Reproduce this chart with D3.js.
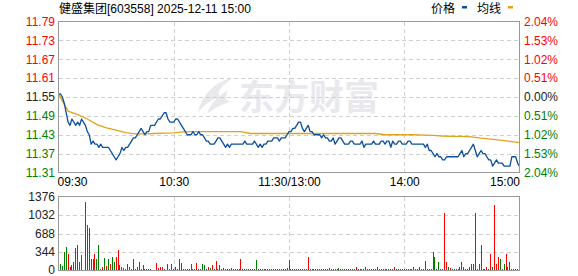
<!DOCTYPE html>
<html>
<head>
<meta charset="utf-8">
<script src="https://cdn.jsdelivr.net/npm/d3@7"></script>
<style>
  body { margin: 0; background: #fff; }
  svg text { font-family: "Liberation Sans", Arial, "Noto Sans CJK SC", sans-serif; }
</style>
</head>
<body>
<div class="chart"></div>
<script>
// chart data
const title = "健盛集团[603558] 2025-12-11 15:00";
const prevClose = 11.55;
const priceTicks = [11.79, 11.73, 11.67, 11.61, 11.55, 11.49, 11.43, 11.37, 11.31];
const pctLabels = ["2.04%", "1.53%", "1.02%", "0.51%", "0.00%", "0.51%", "1.02%", "1.53%", "2.04%"];
const volTicks = [1376, 1032, 688, 344, 0];
const timeLabels = ["09:30", "10:30", "11:30/13:00", "14:00", "15:00"];
const timeMinutes = [0, 60, 120, 180, 240];

// one price per minute, 09:30 .. 15:00 (241 points)
const price = [
  11.56,11.56,11.55,11.53,11.50,11.47,11.46,11.48,11.47,11.46,
  11.47,11.46,11.48,11.47,11.46,11.44,11.43,11.40,11.41,11.40,
  11.40,11.39,11.40,11.39,11.39,11.39,11.39,11.38,11.37,11.36,
  11.35,11.36,11.37,11.39,11.38,11.39,11.39,11.40,11.41,11.42,
  11.42,11.43,11.44,11.45,11.44,11.43,11.44,11.44,11.46,11.46,
  11.46,11.47,11.48,11.48,11.49,11.50,11.50,11.48,11.47,11.47,
  11.47,11.48,11.48,11.47,11.46,11.45,11.44,11.43,11.43,11.43,
  11.44,11.43,11.43,11.44,11.43,11.43,11.42,11.41,11.41,11.40,
  11.40,11.40,11.41,11.42,11.42,11.41,11.40,11.39,11.40,11.39,
  11.40,11.40,11.40,11.40,11.40,11.40,11.40,11.41,11.40,11.40,
  11.40,11.40,11.41,11.40,11.39,11.40,11.39,11.40,11.40,11.41,
  11.41,11.41,11.42,11.42,11.42,11.41,11.42,11.42,11.42,11.43,
  11.44,11.44,11.45,11.45,11.46,11.47,11.47,11.45,11.44,11.45,
  11.46,11.44,11.44,11.43,11.43,11.43,11.43,11.42,11.43,11.42,
  11.42,11.41,11.41,11.42,11.40,11.41,11.42,11.42,11.41,11.40,
  11.40,11.40,11.41,11.41,11.40,11.40,11.40,11.40,11.41,11.39,
  11.40,11.40,11.40,11.40,11.41,11.40,11.40,11.40,11.41,11.41,
  11.40,11.41,11.41,11.39,11.41,11.40,11.40,11.41,11.41,11.40,
  11.40,11.40,11.41,11.41,11.40,11.40,11.40,11.40,11.40,11.40,
  11.40,11.39,11.40,11.38,11.38,11.37,11.36,11.37,11.36,11.36,
  11.35,11.35,11.36,11.36,11.36,11.36,11.36,11.36,11.36,11.37,
  11.38,11.36,11.37,11.37,11.38,11.39,11.40,11.38,11.36,11.37,
  11.38,11.37,11.37,11.36,11.35,11.35,11.33,11.34,11.35,11.34,
  11.34,11.34,11.33,11.33,11.33,11.33,11.36,11.36,11.36,11.34,
  11.33
];

// average line read every 5 minutes
const avgMinutes = [0,5,10,15,20,25,30,35,40,45,50,55,60,65,70,75,80,85,90,95,100,105,110,115,120,
  125,130,135,140,145,150,155,160,165,170,175,180,185,190,195,200,205,210,215,220,225,230,235,240];
const avgPrice = [
  11.560,11.505,11.494,11.480,11.462,11.452,11.445,11.437,11.433,11.433,
  11.434,11.435,11.436,11.439,11.440,11.440,11.440,11.440,11.440,11.440,
  11.434,11.434,11.434,11.434,11.434,11.434,11.434,11.434,11.434,11.434,
  11.434,11.434,11.434,11.434,11.430,11.430,11.430,11.430,11.429,11.428,
  11.426,11.425,11.425,11.423,11.419,11.416,11.413,11.409,11.405
];

// volume per minute (lots), with u = up (red), d = down (green)
const volume = [
  372,112,87,353,428,316,74,93,155,415,
  465,167,279,12,1265,843,787,223,223,298,
  223,465,19,74,236,87,205,112,260,167,
  260,372,93,74,50,25,112,62,19,205,
  25,74,155,25,93,37,19,19,19,12,
  12,136,50,74,56,19,12,112,19,112,
  19,74,19,223,143,19,19,19,19,124,
  19,19,143,19,19,112,93,19,74,50,
  93,19,180,19,93,19,50,19,19,19,
  50,19,19,19,19,217,19,19,19,19,
  19,19,19,186,19,19,19,19,19,19,
  25,19,37,19,19,19,19,19,19,50,
  192,19,19,19,19,19,19,19,19,19,
  242,19,19,19,19,19,19,19,19,19,
  37,50,19,37,19,19,50,19,37,19,
  19,19,19,19,19,74,19,19,19,19,
  74,19,19,19,19,19,56,19,19,19,
  19,19,19,19,19,56,19,19,19,19,
  19,19,19,37,19,56,19,19,56,19,
  19,174,19,19,19,353,260,19,167,19,
  19,1060,167,74,50,19,19,19,19,74,
  167,56,37,37,56,130,130,1060,19,112,
  465,37,37,74,37,316,74,1209,130,260,
  205,19,112,298,74,149,19,19,19,19,
  781
];
const volDir = (
  "udddduuuud" + "udududduuu" + "dduudududd" + "uuudduuudu" + "uuudduuuuu" +
  "uuuuududuu" + "ududduuuuu" + "uuuuudduud" + "uuuududuuu" + "duuuuuuuuu" +
  "uuuduuuuuu" + "uuuuuuuuuu" + "uuuuuuuuuu" + "uuuuuuuuuu" + "dduduuduuu" +
  "uuuuuuuuuu" + "uuuuuuuuuu" + "uuuuuuuuuu" + "uuuduuuuuu" + "udududdudu" +
  "uuuduuuuuu" + "udduuuuduu" + "uddududuuu" + "ddduuuuuuu" + "d"
).split("");

// layout
const W = 578, H = 276;
const left = 58.5, right = 519.5;
const pTop = 21.5, pBottom = 172.5;
const vTop = 196.5, vBottom = 270.5;
const red = "#ff0000", green = "#008000", dark = "#222";
const gridColor = "#d0d0d0", borderColor = "#999";
const lineBlue = "#0d4f9e", lineGold = "#e0a31a";

const svg = d3.select(".chart")
  .append("svg")
  .attr("width", W)
  .attr("height", H);

const xScale = d3.scaleLinear().domain([0, 240]).range([left, right]);
const yScale = d3.scaleLinear().domain([11.31, 11.79]).range([pBottom, pTop]);
const vScale = d3.scaleLinear().domain([0, 1376]).range([vBottom, vTop]);

const colorOf = v => v > prevClose ? red : (v < prevClose ? green : dark);

// watermark
const wm = svg.append("g").attr("fill", "#e9e9ed");
wm.append("path")
  .attr("d", "M232,78 C214,82 201,96 198,113 C204,104 212,99 222,97 C214,94 222,86 232,78 Z M228,90 C218,96 210,104 207,114 C214,108 222,104 230,102 C224,100 226,95 228,90 Z");
wm.append("text")
  .attr("x", 239)
  .attr("y", 110)
  .attr("font-size", "35px")
  .attr("font-weight", "bold")
  .style("font-family", "'Noto Sans CJK SC', sans-serif")
  .text("东方财富");

// gridlines
const grid = svg.append("g")
  .attr("stroke", gridColor)
  .attr("stroke-dasharray", "4,3")
  .attr("shape-rendering", "crispEdges");
grid.selectAll(".hp")
  .data(priceTicks.slice(1, -1))
  .join("line")
  .attr("x1", left).attr("x2", right)
  .attr("y1", d => Math.round(yScale(d)) + 0.5)
  .attr("y2", d => Math.round(yScale(d)) + 0.5);
grid.selectAll(".hv")
  .data(volTicks.slice(1, -1))
  .join("line")
  .attr("class", "hv")
  .attr("x1", left).attr("x2", right)
  .attr("y1", d => Math.round(vScale(d)) + 0.5)
  .attr("y2", d => Math.round(vScale(d)) + 0.5);
[[pTop, pBottom], [vTop, vBottom]].forEach(([t, b]) => {
  grid.append("g")
    .selectAll("line")
    .data(timeMinutes.slice(1, -1))
    .join("line")
    .attr("x1", d => Math.round(xScale(d)) + 0.5)
    .attr("x2", d => Math.round(xScale(d)) + 0.5)
    .attr("y1", t).attr("y2", b);
});

// volume bars
svg.append("g")
  .attr("shape-rendering", "crispEdges")
  .selectAll("rect")
  .data(volume)
  .join("rect")
  .attr("x", (d, i) => Math.floor(xScale(i)))
  .attr("width", 1)
  .attr("y", d => vScale(d))
  .attr("height", d => vScale(0) - vScale(d))
  .attr("fill", (d, i) => volDir[i] === "u" ? red : green);

// average line
const avgLine = d3.line()
  .x((d, i) => xScale(avgMinutes[i]))
  .y(d => yScale(d));
svg.append("path")
  .datum(avgPrice)
  .attr("fill", "none")
  .attr("stroke", lineGold)
  .attr("stroke-width", 1.3)
  .attr("d", avgLine);

// price line
const priceLine = d3.line()
  .x((d, i) => xScale(i))
  .y(d => yScale(d));
svg.append("path")
  .datum(price)
  .attr("fill", "none")
  .attr("stroke", lineBlue)
  .attr("stroke-width", 1.3)
  .attr("stroke-linejoin", "round")
  .attr("d", priceLine);

// panel borders
svg.append("g")
  .attr("fill", "none")
  .attr("stroke", borderColor)
  .attr("shape-rendering", "crispEdges")
  .selectAll("rect")
  .data([[pTop, pBottom], [vTop, vBottom]])
  .join("rect")
  .attr("x", left).attr("width", right - left)
  .attr("y", d => d[0]).attr("height", d => d[1] - d[0]);

// axes
const leftAxis = svg.append("g")
  .attr("transform", `translate(${left - 0.5},0)`)
  .call(d3.axisLeft(yScale).tickValues(priceTicks).tickSize(0).tickPadding(3).tickFormat(d3.format(".2f")))
  .call(g => g.select(".domain").remove());
leftAxis.selectAll("text")
  .attr("font-size", "12px")
  .attr("fill", d => colorOf(d));

const rightAxis = svg.append("g")
  .attr("transform", `translate(${right + 0.5},0)`)
  .call(d3.axisRight(yScale).tickValues(priceTicks).tickSize(0).tickPadding(4).tickFormat((d, i) => pctLabels[i]))
  .call(g => g.select(".domain").remove());
rightAxis.selectAll("text")
  .attr("font-size", "12px")
  .attr("fill", d => colorOf(d));

svg.append("g")
  .attr("transform", `translate(${left - 0.5},0)`)
  .call(d3.axisLeft(vScale).tickValues(volTicks).tickSize(0).tickPadding(3).tickFormat(d3.format("d")))
  .call(g => g.select(".domain").remove())
  .selectAll("text")
  .attr("font-size", "12px")
  .attr("fill", dark)
  .attr("dy", d => d === 0 ? "0.25em" : "0.32em");

const xAxis = svg.append("g")
  .attr("transform", `translate(0,${pBottom})`)
  .call(d3.axisBottom(xScale).tickValues(timeMinutes).tickSize(0).tickPadding(5).tickFormat((d, i) => timeLabels[i]))
  .call(g => g.select(".domain").remove());
xAxis.selectAll("text")
  .attr("font-size", "12px")
  .attr("fill", "#000")
  .attr("text-anchor", (d, i) => i === 0 ? "start" : (i === timeMinutes.length - 1 ? "end" : "middle"))
  .attr("dx", (d, i) => i === 0 ? -1.5 : 0);

// title and legend
svg.append("text")
  .attr("x", 59)
  .attr("y", 13)
  .attr("font-size", "12px")
  .attr("fill", "#000")
  .text(title);

const legend = svg.append("g").attr("font-size", "12px");
legend.append("text").attr("x", 431).attr("y", 13).text("价格");
legend.append("rect").attr("x", 462).attr("y", 6).attr("width", 5).attr("height", 2.5).attr("fill", lineBlue);
legend.append("text").attr("x", 477).attr("y", 13).text("均线");
legend.append("rect").attr("x", 508).attr("y", 6).attr("width", 5).attr("height", 2.5).attr("fill", lineGold);
</script>
</body>
</html>
